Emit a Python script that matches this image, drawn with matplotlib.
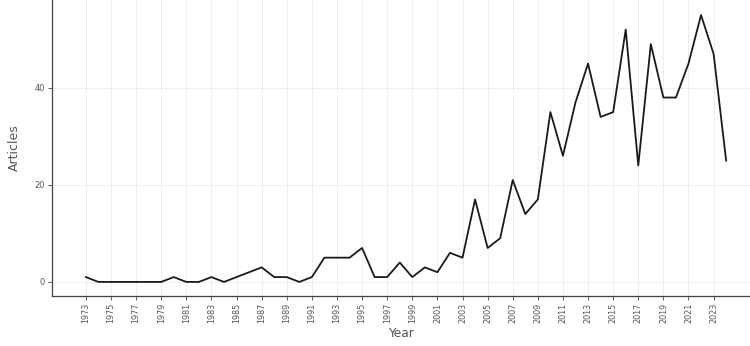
import matplotlib
matplotlib.use("Agg")
import matplotlib.pyplot as plt

years = list(range(1973, 2025))
articles = [1, 0, 0, 0, 0, 0, 0, 1, 0, 0, 1, 0, 1, 2, 3, 1, 1, 0, 1, 5,
            5, 5, 7, 1, 1, 4, 1, 3, 2, 6, 5, 17, 7, 9, 21, 14, 17, 35, 26, 37,
            45, 34, 35, 52, 24, 49, 38, 38, 45, 55, 47, 25]
xticks = list(range(1973, 2024, 2))
yticks = [0, 20, 40]

plt.rcParams['font.family'] = ['DejaVu Sans']
fig = plt.figure(figsize=(7.5, 3.46), dpi=100)
ax = fig.add_axes([52/750, 50/346, 1 - 52/750, 1 - 50/346])

ax.plot(years, articles, color='#1a1a1a', linewidth=1.3)

ax.set_xlim(1970.3, 2025.9)
ax.set_ylim(-2.9, 58.1)
ax.set_xticks(xticks)
ax.set_xticklabels([str(t) for t in xticks], rotation=90, fontsize=5.8, color='#555555')
ax.set_yticks(yticks)
ax.set_yticklabels([str(t) for t in yticks], fontsize=6, color='#555555')

ax.grid(True, color='#ebebeb', linewidth=0.6)
ax.set_axisbelow(True)
for s in ['top', 'right']:
    ax.spines[s].set_visible(False)
for s in ['left', 'bottom']:
    ax.spines[s].set_color('#444444')
    ax.spines[s].set_linewidth(0.9)
ax.tick_params(axis='both', colors='#444444', length=3, width=0.6, labelcolor='#555555', pad=2)

ax.set_xlabel('Year', fontsize=8.8, color='#555555', labelpad=2.5)
ax.set_ylabel('Articles', fontsize=9, color='#555555', labelpad=10)

fig.savefig('out.png', dpi=100)
